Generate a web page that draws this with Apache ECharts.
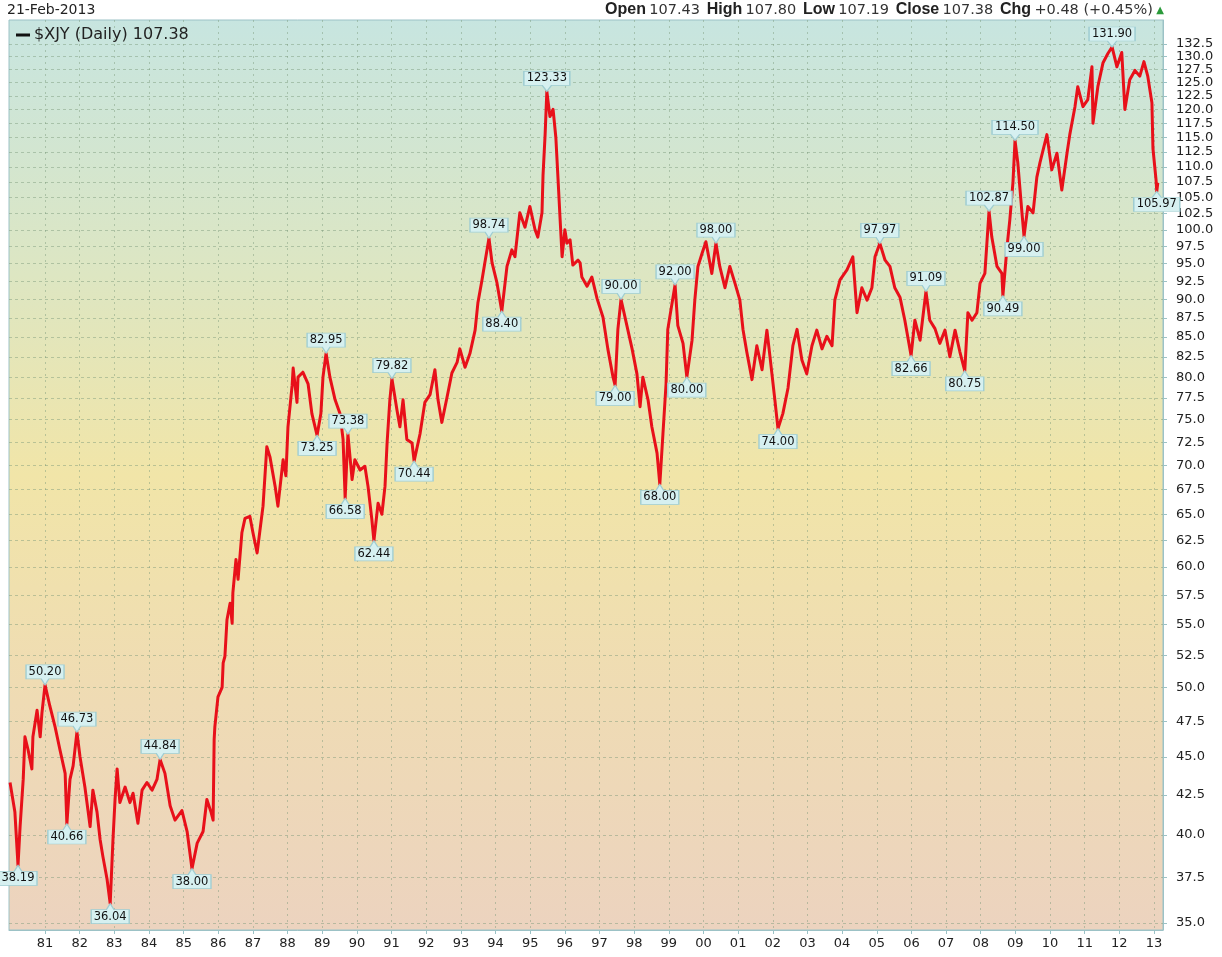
<!DOCTYPE html>
<html><head><meta charset="utf-8">
<script src="https://cdn.jsdelivr.net/npm/echarts@6/dist/echarts.min.js"></script>
<style>html,body{margin:0;padding:0;background:#fff}#c{width:1222px;height:957px}</style>
</head><body><div id="c"></div>
<script>
// decimal-year dates and closing values of $XJY
const dates = [
1979.99,1980.13,1980.22,1980.28,1980.37,1980.42,1980.51,1980.62,1980.65,1980.77,1980.86,1980.91,
1981.00,1981.14,1981.29,1981.43,1981.58,1981.63,1981.72,1981.81,1981.92,1982.01,1982.15,1982.24,
1982.30,1982.38,1982.50,1982.59,1982.67,1982.79,1982.88,1982.96,1983.02,1983.08,1983.16,1983.31,
1983.45,1983.54,1983.68,1983.80,1983.94,1984.09,1984.23,1984.32,1984.46,1984.61,1984.75,1984.95,
1985.10,1985.24,1985.39,1985.56,1985.67,1985.79,1985.85,1985.88,1985.90,1985.99,1986.11,1986.14,
1986.19,1986.25,1986.34,1986.40,1986.42,1986.51,1986.57,1986.68,1986.77,1986.91,1987.00,1987.12,
1987.20,1987.29,1987.40,1987.49,1987.64,1987.72,1987.87,1987.95,1988.01,1988.13,1988.16,1988.27,
1988.30,1988.44,1988.59,1988.70,1988.85,1988.96,1989.02,1989.11,1989.22,1989.37,1989.51,1989.60,
1989.66,1989.74,1989.86,1989.94,1990.09,1990.23,1990.32,1990.43,1990.49,1990.61,1990.72,1990.81,
1990.87,1990.95,1991.01,1991.16,1991.24,1991.33,1991.44,1991.59,1991.65,1991.82,1991.96,1992.11,
1992.25,1992.34,1992.45,1992.60,1992.74,1992.89,1992.97,1993.12,1993.26,1993.41,1993.49,1993.61,
1993.69,1993.81,1993.90,1994.04,1994.18,1994.33,1994.47,1994.56,1994.70,1994.85,1994.99,1995.14,
1995.22,1995.34,1995.37,1995.43,1995.48,1995.57,1995.66,1995.74,1995.80,1995.86,1995.92,1996.00,
1996.06,1996.15,1996.23,1996.38,1996.44,1996.49,1996.64,1996.78,1996.93,1997.10,1997.24,1997.39,
1997.45,1997.53,1997.62,1997.79,1997.94,1998.08,1998.17,1998.25,1998.40,1998.51,1998.66,1998.74,
1998.83,1998.92,1998.97,1999.18,1999.26,1999.41,1999.52,1999.67,1999.75,1999.84,1999.96,2000.07,
2000.24,2000.36,2000.47,2000.62,2000.76,2000.91,2001.05,2001.14,2001.25,2001.40,2001.54,2001.69,
2001.83,2001.92,2002.06,2002.15,2002.29,2002.44,2002.58,2002.70,2002.84,2002.98,2003.13,2003.27,
2003.42,2003.56,2003.71,2003.79,2003.94,2004.14,2004.31,2004.43,2004.57,2004.72,2004.86,2004.95,
2005.09,2005.24,2005.38,2005.52,2005.67,2005.81,2005.99,2006.10,2006.25,2006.42,2006.53,2006.68,
2006.82,2006.97,2007.11,2007.26,2007.40,2007.54,2007.63,2007.75,2007.89,2007.98,2008.12,2008.24,
2008.32,2008.47,2008.61,2008.64,2008.76,2008.84,2008.93,2008.99,2009.07,2009.19,2009.25,2009.36,
2009.51,2009.62,2009.71,2009.91,2010.05,2010.20,2010.34,2010.49,2010.57,2010.72,2010.80,2010.95,
2011.09,2011.21,2011.24,2011.38,2011.53,2011.67,2011.79,2011.93,2012.07,2012.16,2012.30,2012.45,
2012.59,2012.71,2012.82,2012.94,2012.97,2013.06,2013.08,2013.11
];
const closes = [
43.3,41.4,38.19,40.5,43.5,46.4,45.5,44.2,46.4,48.3,46.4,48.1,
50.20,48.6,47.1,45.5,43.9,40.66,43.5,44.4,46.73,45.0,43.0,41.5,
40.5,42.8,41.4,39.7,38.7,37.4,36.04,39.7,42.2,44.2,42.0,43.0,
42.0,42.6,40.7,42.8,43.3,42.8,43.5,44.84,43.9,41.8,40.9,41.5,
40.2,38.00,39.5,40.2,42.2,41.4,40.9,46.2,47.1,49.3,50.0,51.9,
52.4,55.4,56.8,55.1,57.7,60.7,58.9,63.2,64.6,64.8,63.2,61.3,
63.4,65.8,72.0,70.9,67.8,65.8,70.6,68.9,74.2,79.0,81.1,77.0,
80.0,80.6,79.2,75.7,73.25,75.7,80.0,82.95,80.0,77.3,75.7,72.8,
66.58,73.38,68.5,70.6,69.5,69.9,67.8,64.5,62.44,66.1,65.0,67.8,
72.4,77.3,79.82,76.0,74.2,77.3,72.8,72.4,70.44,73.4,77.0,77.9,
80.9,77.3,74.7,77.6,80.5,81.8,83.5,81.2,82.9,85.9,89.5,92.7,
95.1,98.74,95.1,92.3,88.40,94.6,97.0,96.0,102.6,100.4,103.6,100.0,
98.9,102.6,108.6,115.5,123.33,118.7,120.0,115.0,108.3,101.9,96.0,100.0,
98.0,98.5,94.8,95.5,95.1,93.1,91.8,93.1,90.1,87.6,83.5,80.0,
79.00,86.0,90.00,86.5,83.5,80.4,76.5,80.0,77.3,74.2,71.3,68.00,
73.4,79.2,86.0,92.00,86.5,84.2,80.00,84.6,89.9,94.6,96.5,98.2,
93.6,98.00,94.6,91.6,94.6,92.2,89.9,86.0,83.1,79.7,83.9,80.9,
85.9,82.5,77.3,74.00,75.7,78.7,83.9,86.0,82.1,80.4,83.9,85.9,
83.5,85.1,83.9,89.9,92.7,94.1,96.0,88.2,91.6,89.9,91.6,96.0,
97.97,95.5,94.6,91.6,90.3,87.2,82.66,87.2,84.6,91.09,87.2,86.1,
84.2,85.9,82.5,85.9,83.1,80.75,88.2,87.2,88.2,92.2,93.6,102.87,
98.9,94.6,93.6,90.49,97.5,101.5,107.4,114.50,110.7,102.6,99.00,103.6,
102.6,108.3,110.7,115.5,109.5,112.3,106.2,112.3,115.5,120.5,124.2,120.5,
121.8,128.0,117.5,124.2,128.8,130.6,131.90,128.0,130.8,120.0,125.5,127.3,
126.2,129.0,126.2,121.2,113.1,107.8,105.97,107.38
];
// annotated highs and lows
const peakDates  = [1981.00,1981.92,1984.32,1989.11,1989.74,1991.01,1993.81,1995.48,1997.62,1999.18,2000.36,2005.09,2006.42,2008.24,2008.99,2011.79];
const peakValues = [50.20,46.73,44.84,82.95,73.38,79.82,98.74,123.33,90.00,92.00,98.00,97.97,91.09,102.87,114.50,131.90];
const troughDates  = [1980.22,1981.63,1982.88,1985.24,1988.85,1989.66,1990.49,1991.65,1994.18,1997.45,1998.74,1999.52,2002.15,2005.99,2007.54,2008.64,2009.25,2013.08];
const troughValues = [38.19,40.66,36.04,38.00,73.25,66.58,62.44,70.44,88.40,79.00,68.00,80.00,74.00,82.66,80.75,90.49,99.00,105.97];
// axis ticks
const yTicks = [35.0,37.5,40.0,42.5,45.0,47.5,50.0,52.5,55.0,57.5,60.0,62.5,65.0,67.5,70.0,72.5,75.0,77.5,80.0,82.5,85.0,87.5,90.0,92.5,95.0,97.5,100.0,102.5,105.0,107.5,110.0,112.5,115.0,117.5,120.0,122.5,125.0,127.5,130.0,132.5];
const xTicks = [1981,1982,1983,1984,1985,1986,1987,1988,1989,1990,1991,1992,1993,1994,1995,1996,1997,1998,1999,2000,2001,2002,2003,2004,2005,2006,2007,2008,2009,2010,2011,2012,2013];
const seriesName = '$XJY (Daily) 107.38';

const chart = echarts.init(document.getElementById('c'), null, {renderer: 'canvas'});
const lineData = dates.map((d, i) => [d, closes[i]]);
const peaks = peakDates.map((d, i) => [d, peakValues[i]]);
const troughs = troughDates.map((d, i) => [d, troughValues[i]]);
// labels split over two overlaid identical axes so ECharts never drops a crowded one
const yLabelsA = yTicks.filter((v, i) => i % 2 === 0);
const yLabelsB = yTicks.filter((v, i) => i % 2 === 1);
const boxW = v => (v.toFixed(2).length >= 6 ? 46 : 38);
const annLabel = {
  show: true, position: 'inside', color: '#111',
  fontFamily: 'DejaVu Sans', fontSize: 11.5,
  formatter: p => p.value[1].toFixed(2)
};
const annStyle = {color: '#d6f0f0', borderColor: '#9fcdd2', borderWidth: 1, opacity: 1};
const axisFont = 'DejaVu Sans';
const yLabelStyle = {
  margin: 13, color: '#222', fontSize: 13, fontFamily: axisFont,
  showMinLabel: true, showMaxLabel: true, formatter: v => Number(v).toFixed(1)
};

chart.setOption({
  animation: false,
  backgroundColor: '#ffffff',
  grid: {
    left: 9, right: 59, top: 20, bottom: 27, show: true,
    borderColor: '#9cc2c6', borderWidth: 1,
    backgroundColor: new echarts.graphic.LinearGradient(0, 0, 0, 1, [
      {offset: 0, color: '#c7e5e0'},
      {offset: 0.28, color: '#dde6c2'},
      {offset: 0.5, color: '#f1e5a8'},
      {offset: 0.75, color: '#efdbb4'},
      {offset: 1, color: '#ecd3bf'}
    ])
  },
  legend: {
    left: 11, top: 22, itemWidth: 14, itemHeight: 3, icon: 'rect', itemGap: 6,
    data: [{name: seriesName, itemStyle: {color: '#111'}}],
    textStyle: {fontFamily: 'DejaVu Sans', fontSize: 16, color: '#222', padding: [0, 0, 0, -1]}
  },
  xAxis: {
    type: 'value', min: 1979.96, max: 2013.26,
    axisLine: {show: true, lineStyle: {color: '#9cc2c6'}},
    axisTick: {show: true, customValues: xTicks, length: 4, lineStyle: {color: '#9cc2c6'}},
    axisLabel: {
      customValues: xTicks, margin: 7, color: '#222', fontSize: 13,
      fontFamily: axisFont, showMinLabel: true, showMaxLabel: true,
      formatter: v => String(Math.round(v) % 100).padStart(2, '0')
    },
    splitLine: {show: true, lineStyle: {color: 'rgba(120,150,120,0.45)', type: [2, 4], width: 1}}
  },
  yAxis: [
    {
      type: 'log', logBase: 10, position: 'right', min: 34.63, max: 137.4,
      axisLine: {show: true, lineStyle: {color: '#9cc2c6'}},
      axisTick: {show: true, customValues: yTicks, length: 4, lineStyle: {color: '#9cc2c6'}},
      axisLabel: Object.assign({customValues: yLabelsA}, yLabelStyle),
      splitLine: {show: true, lineStyle: {color: 'rgba(120,150,120,0.45)', type: [3, 3], width: 1}}
    },
    {
      type: 'log', logBase: 10, position: 'right', offset: 0, min: 34.63, max: 137.4,
      axisLine: {show: false}, axisTick: {show: false}, splitLine: {show: false},
      axisLabel: Object.assign({customValues: yLabelsB}, yLabelStyle)
    }
  ],
  series: [
    {
      name: seriesName, type: 'line', data: lineData, showSymbol: false, symbol: 'none',
      lineStyle: {color: '#e8101a', width: 3, join: 'round'}, itemStyle: {color: '#e8101a'}, z: 3
    },
    {
      name: 'highs', type: 'scatter', data: peaks, z: 5,
      symbol: 'path://M0 0 H40 V14 H24 L20 20 L16 14 H0 Z',
      symbolSize: v => [boxW(v[1]), 20], symbolOffset: [0, -10],
      itemStyle: annStyle, label: Object.assign({}, annLabel, {offset: [0, -3]})
    },
    {
      name: 'lows', type: 'scatter', data: troughs, z: 5,
      symbol: 'path://M0 6 H16 L20 0 L24 6 H40 V20 H0 Z',
      symbolSize: v => [boxW(v[1]), 20], symbolOffset: [0, 10],
      itemStyle: annStyle, label: Object.assign({}, annLabel, {offset: [0, 3]})
    }
  ],
  graphic: [
    {type: 'text', left: 7, top: 3, style: {text: '21-Feb-2013', font: '14px "DejaVu Sans"', fill: '#222'}},
    {type: 'text', right: 58, top: 2, style: {
      text: '{b|Open} {n|107.43}  {b|High} {n|107.80}  {b|Low} {n|107.19}  {b|Close} {n|107.38}  {b|Chg} {n|+0.48 (+0.45%)} {g|▲}',
      rich: {
        b: {font: 'bold 16px "Liberation Sans", Arial', fill: '#222'},
        n: {font: '14.5px "DejaVu Sans"', fill: '#333'},
        g: {font: '10px "DejaVu Sans"', fill: '#2a9a3a'}
      }
    }}
  ]
});
</script>
</body></html>
